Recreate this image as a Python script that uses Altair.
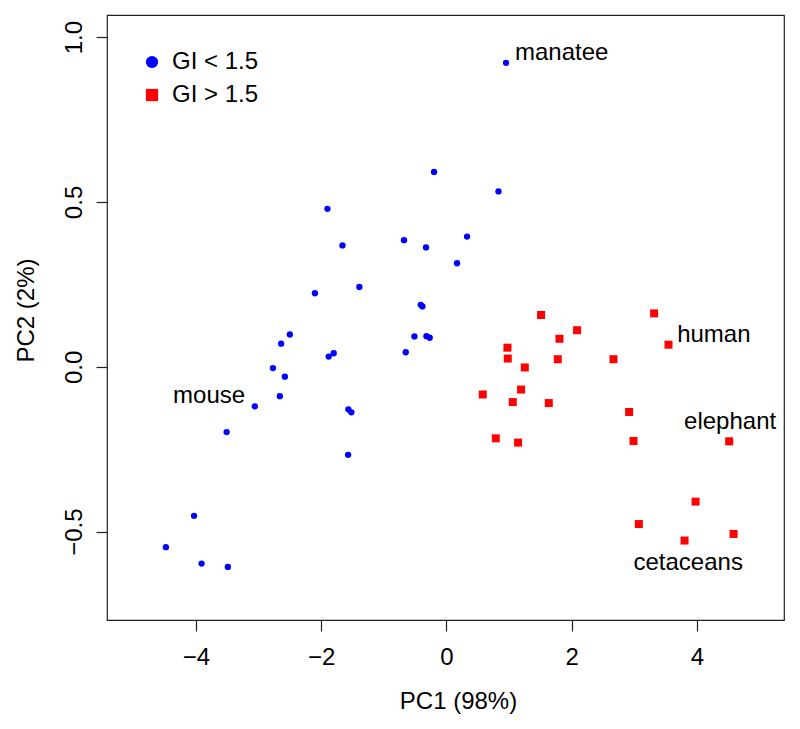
import altair as alt
import pandas as pd

# ---- data ----
blue_x = [-0.198, -1.90, -1.66, -0.677, -0.326, -2.10, -1.39, -0.41, -0.383,
          0.952, 0.831, 0.329, 0.169,
          -2.50, -2.64, -1.88, -1.80, -0.511, -0.319, -0.267, -0.65, -2.77,
          -2.58, -2.66, -3.06, -3.51, -1.566, -1.518, -1.57, -4.03, -4.48,
          -3.91, -3.49]
blue_y = [0.591, 0.479, 0.368, 0.384, 0.362, 0.223, 0.242, 0.188, 0.183,
          0.922, 0.532, 0.395, 0.314,
          0.098, 0.070, 0.031, 0.041, 0.092, 0.093, 0.088, 0.044, -0.004,
          -0.030, -0.089, -0.120, -0.198, -0.129, -0.138, -0.267, -0.452,
          -0.547, -0.597, -0.607]

red_x = [1.511, 3.316, 2.086, 1.805, 0.974, 3.546, 0.979, 1.778, 2.667, 1.251,
         0.580, 1.192, 1.059, 1.634, 2.917, 0.788, 1.144, 2.987, 4.515, 3.978,
         3.072, 4.585, 3.802]
red_y = [0.157, 0.162, 0.111, 0.085, 0.058, 0.067, 0.025, 0.023, 0.023, -0.002,
         -0.084, -0.069, -0.107, -0.110, -0.137, -0.217, -0.230, -0.225, -0.226,
         -0.409, -0.477, -0.507, -0.527]

groups = ["GI < 1.5", "GI > 1.5"]
group_colors = ["#0000FF", "#FF0000"]
group_shapes = ["circle", "square"]

label_text = ["manatee", "mouse", "human", "elephant", "cetaceans"]
label_x = [1.84, -3.79, 4.27, 4.53, 3.86]
label_y = [0.931, -0.109, 0.076, -0.189, -0.616]

x_ticks = [-4, -2, 0, 2, 4]
y_ticks = [-0.5, 0.0, 0.5, 1.0]

# ---- tables ----
pts = pd.DataFrame({
    "PC1": blue_x + red_x,
    "PC2": blue_y + red_y,
    "group": [groups[0]] * len(blue_x) + [groups[1]] * len(red_x),
})
labels = pd.DataFrame({"PC1": label_x, "PC2": label_y, "text": label_text})

FONT = "Liberation Sans"
xs = alt.Scale(domain=[-5.42, 5.39], nice=False, zero=False)
ys = alt.Scale(domain=[-0.768, 1.067], nice=False, zero=False)

points = alt.Chart(pts).mark_point(filled=True, opacity=1).encode(
    x=alt.X("PC1:Q", scale=xs, title="PC1 (98%)",
            axis=alt.Axis(values=x_ticks, format="d", tickSize=11,
                          labelPadding=14, titlePadding=20, titleX=351)),
    y=alt.Y("PC2:Q", scale=ys, title="PC2 (2%)",
            axis=alt.Axis(values=y_ticks, format=".1f", tickSize=11,
                          labelAngle=270, labelAlign="center",
                          labelBaseline="bottom", labelPadding=10,
                          titlePadding=24, titleY=295)),
    color=alt.Color("group:N", scale=alt.Scale(domain=groups, range=group_colors),
                    legend=alt.Legend(title=None, orient="none", legendX=33,
                                      legendY=35, labelFontSize=24,
                                      labelFont=FONT, symbolSize=150,
                                      rowPadding=9, labelOffset=8,
                                      symbolStrokeWidth=0)),
    shape=alt.Shape("group:N", scale=alt.Scale(domain=groups, range=group_shapes)),
    size=alt.condition(alt.datum.group == groups[0], alt.value(40), alt.value(64)),
)

text = alt.Chart(labels).mark_text(
    font=FONT, fontSize=24, align="center", baseline="alphabetic", color="black"
).encode(x=alt.X("PC1:Q", scale=xs), y=alt.Y("PC2:Q", scale=ys), text="text:N")

chart = alt.layer(points, text).properties(
    width=677, height=605,
    autosize=alt.AutoSizeParams(type="none"),
    padding={"left": 99, "top": 7, "right": 8, "bottom": 100},
).configure_view(
    stroke="#222222", strokeWidth=1.2
).configure_axis(
    grid=False, domain=False, labelFont=FONT, titleFont=FONT,
    labelFontSize=24, titleFontSize=24, titleFontWeight="normal",
    labelColor="black", titleColor="black", tickColor="#222222",
    tickWidth=1.2,
)

chart.save("out.html", embed_options={"renderer": "svg", "actions": False})
